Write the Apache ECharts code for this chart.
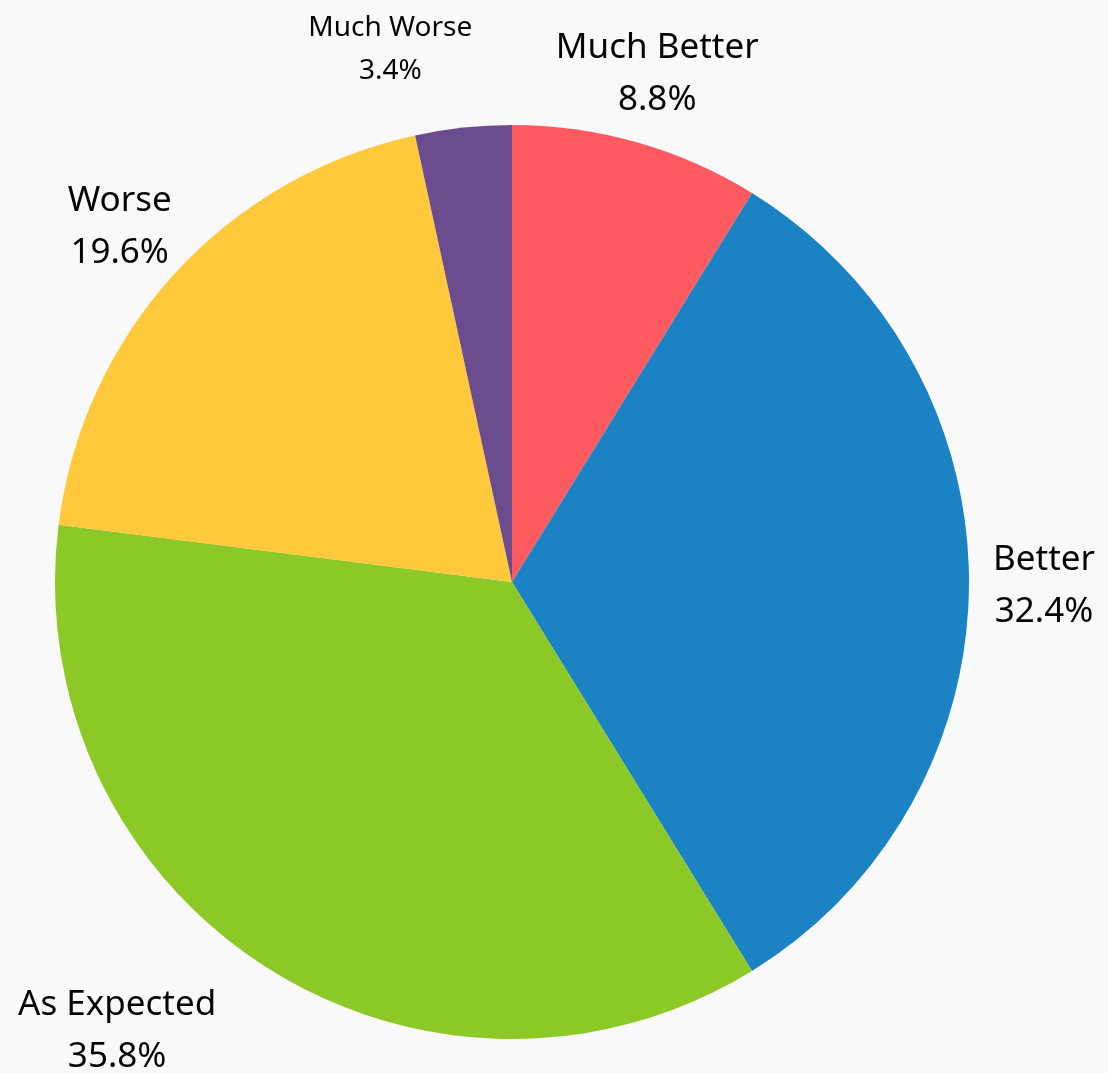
<!DOCTYPE html>
<html>
<head>
<meta charset="utf-8">
<script src="https://cdn.jsdelivr.net/npm/echarts@6/dist/echarts.min.js"></script>
<style>
  html, body { margin: 0; padding: 0; background: #f9f9f9; }
  #chart { width: 1108px; height: 1073px; }
</style>
</head>
<body>
<div id="chart"></div>
<script>
// Outcome shares, clockwise from 12 o'clock
const categories = ['Much Better', 'Better', 'As Expected', 'Worse', 'Much Worse'];
const shares = [8.8, 32.4, 35.8, 19.6, 3.4];
const colors = ['#ff5a5f', '#1b83c4', '#8dc926', '#ffc93b', '#6b4c8e'];

// Pie geometry
const CX = 512, CY = 582, R = 457;
const LABEL_R = 532;
const LABEL_DY = 4;
// Small per-label shifts to keep crowded labels clear of the pie and each other
const labelShift = { 'As Expected': [-107, -2], 'Much Worse': [-65, -8] };
const smallLabels = { 'Much Worse': true };

const total = shares.reduce((a, b) => a + b, 0);
const midAngles = [];
let acc = 0;
shares.forEach(v => { midAngles.push((acc + v / 2) / total * 2 * Math.PI); acc += v; });

const chart = echarts.init(document.getElementById('chart'));
chart.setOption({
  backgroundColor: '#f9f9f9',
  animation: false,
  series: [{
    type: 'pie',
    center: [CX, CY],
    radius: [0, R],
    startAngle: 90,
    clockwise: true,
    avoidLabelOverlap: false,
    data: categories.map((c, i) => ({
      name: c,
      value: shares[i],
      itemStyle: { color: colors[i] },
      label: smallLabels[c] ? { fontSize: 28, lineHeight: 43 } : {}
    })),
    label: {
      show: true,
      position: 'outside',
      formatter: p => p.name + '\n' + p.value.toFixed(1) + '%',
      fontFamily: 'Noto Sans',
      fontSize: 35,
      lineHeight: 52,
      color: '#050505',
      align: 'center'
    },
    labelLine: { show: false },
    labelLayout: function (params) {
      const i = params.dataIndex;
      const a = midAngles[i];
      const s = labelShift[categories[i]] || [0, 0];
      return {
        x: CX + LABEL_R * Math.sin(a) + s[0],
        y: CY - LABEL_R * Math.cos(a) + s[1] + LABEL_DY,
        align: 'center',
        verticalAlign: 'middle'
      };
    }
  }]
});
</script>
</body>
</html>
